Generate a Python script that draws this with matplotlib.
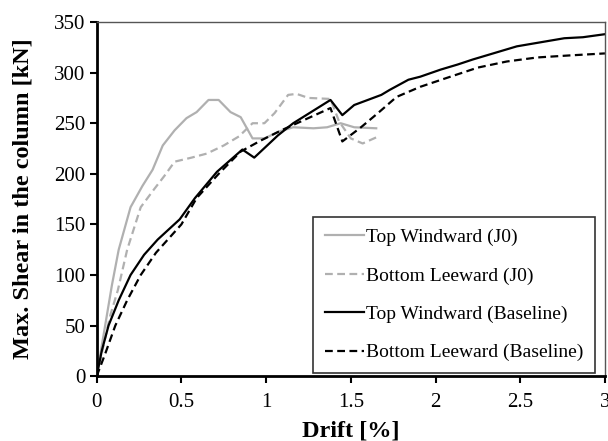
import matplotlib
matplotlib.use("Agg")
import matplotlib.pyplot as plt

plt.rcParams['font.family'] = ['Liberation Serif', 'DejaVu Serif']

# Top Windward (J0)
tw_j0_x = [0, 0.03, 0.06, 0.09, 0.13, 0.20, 0.27, 0.33, 0.39, 0.46, 0.53, 0.59, 0.66, 0.72,
           0.79, 0.85, 0.92, 0.99, 1.08, 1.16, 1.28, 1.36, 1.44, 1.52, 1.65]
tw_j0_y = [0, 30, 60, 90, 125, 167, 188, 204, 228, 243, 255, 261, 273, 273,
           261, 256, 235, 235, 242, 246, 245, 246, 250, 246, 245]

# Bottom Leeward (J0)
bl_j0_x = [0, 0.04, 0.08, 0.125, 0.18, 0.26, 0.34, 0.40, 0.46, 0.56, 0.65, 0.75, 0.84,
           0.92, 0.99, 1.05, 1.13, 1.18, 1.25, 1.38, 1.43, 1.50, 1.57, 1.65]
bl_j0_y = [0, 30, 60, 85, 125, 167, 185, 198, 212, 216, 220, 228, 237,
           250, 250, 260, 278, 279, 275, 274, 252, 235, 230, 236]

# Top Windward (Baseline)
tw_bl_x = [0, 0.03, 0.07, 0.13, 0.20, 0.28, 0.36, 0.49, 0.58, 0.71, 0.86, 0.93, 1.00, 1.07,
           1.16, 1.38, 1.45, 1.52, 1.60, 1.68, 1.73, 1.84, 1.91, 2.03, 2.13, 2.22, 2.34,
           2.48, 2.62, 2.76, 2.87, 3.0]
tw_bl_y = [0, 25, 50, 75, 100, 120, 135, 155, 176, 202, 224, 216, 227, 238,
           250, 273, 258, 268, 273, 278, 283, 293, 296, 303, 308, 313, 319,
           326, 330, 334, 335, 338]

# Bottom Leeward (Baseline)
bl_bl_x = [0, 0.05, 0.11, 0.18, 0.26, 0.35, 0.50, 0.59, 0.72, 0.85, 0.97, 1.09, 1.38, 1.45,
           1.56, 1.66, 1.77, 1.91, 2.07, 2.25, 2.42, 2.60, 2.79, 3.0]
bl_bl_y = [0, 22, 50, 75, 100, 122, 150, 176, 200, 222, 233, 243, 265, 232,
           246, 260, 276, 286, 295, 305, 311, 315, 317, 319]

x_ticks = [0, 0.5, 1, 1.5, 2, 2.5, 3]
x_tick_labels = ['0', '0.5', '1', '1.5', '2', '2.5', '3']
y_ticks = [0, 50, 100, 150, 200, 250, 300, 350]

fig = plt.figure(figsize=(6.08, 4.41), dpi=100)
ax = fig.add_axes([0.159, 0.147, 0.836, 0.803])

grey = '#b0b0b0'
ax.plot(tw_j0_x, tw_j0_y, color=grey, lw=1.6, ls='-', label='Top Windward (J0)')
ax.plot(bl_j0_x, bl_j0_y, color=grey, lw=1.6, ls=(0, (3.5, 2)), label='Bottom Leeward (J0)')
ax.plot(tw_bl_x, tw_bl_y, color='black', lw=1.6, ls='-', label='Top Windward (Baseline)')
ax.plot(bl_bl_x, bl_bl_y, color='black', lw=1.6, ls=(0, (3.5, 2)), label='Bottom Leeward (Baseline)')

ax.set_xlim(0, 3)
ax.set_ylim(0, 350)
ax.set_xticks(x_ticks)
ax.set_xticklabels(x_tick_labels)
ax.set_yticks(y_ticks)
ax.tick_params(axis='both', direction='out', length=5, width=1.5, labelsize=15)
ax.tick_params(axis='x', pad=7)
ax.tick_params(axis='y', pad=3)
ax.tick_params(top=False, right=False)

for s in ['left', 'bottom']:
    ax.spines[s].set_linewidth(2)
    ax.spines[s].set_color('black')
for s in ['top', 'right']:
    ax.spines[s].set_linewidth(1)
    ax.spines[s].set_color('#555555')

ax.set_xlabel('Drift [%]', fontsize=17.5, fontweight='bold', labelpad=6)
ax.set_ylabel('Max. Shear in the column [kN]', fontsize=17.5, fontweight='bold', labelpad=15)

leg = ax.legend(loc='lower right', bbox_to_anchor=(0.980, 0.0085), fontsize=14,
                frameon=True, fancybox=False, handlelength=2.0, handletextpad=0.1,
                labelspacing=1.07, borderpad=0.6, borderaxespad=0)
leg.get_frame().set_edgecolor('black')
leg.get_frame().set_linewidth(1.2)

fig.savefig('out.png', dpi=100)
